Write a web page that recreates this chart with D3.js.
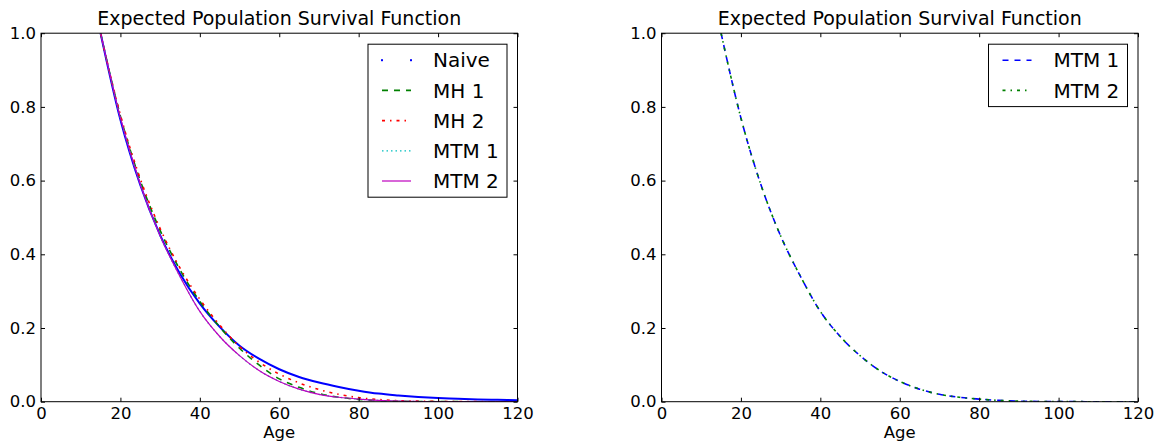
<!DOCTYPE html>
<html>
<head>
<meta charset="utf-8">
<script src="https://cdn.jsdelivr.net/npm/d3@7"></script>
<style>
  html, body { margin: 0; padding: 0; background: #fff; }
  svg { display: block; font-family: "DejaVu Sans", sans-serif; }
</style>
</head>
<body>
<svg id="chart" width="1158" height="444"></svg>
<script>
// ---- data ----
const ages  = [15, 20, 25, 30, 35, 40, 45, 50, 55, 60, 65, 70, 75, 80, 85, 90, 95, 100, 105, 110, 115, 120];
const naive = [1.000, 0.765, 0.588, 0.452, 0.347, 0.266, 0.203, 0.152, 0.116, 0.088, 0.067, 0.052, 0.040, 0.030, 0.022, 0.017, 0.013, 0.010, 0.008, 0.006, 0.005, 0.004];
const mh1   = [1.000, 0.775, 0.600, 0.465, 0.358, 0.272, 0.203, 0.145, 0.099, 0.062, 0.039, 0.022, 0.012, 0.006, 0.003, 0.0012, 0.0005, 0.0002, 0.0001, 0, 0, 0];
const mh2   = [1.000, 0.778, 0.605, 0.470, 0.363, 0.278, 0.208, 0.150, 0.107, 0.075, 0.051, 0.033, 0.020, 0.011, 0.006, 0.003, 0.0015, 0.0007, 0.0003, 0.0001, 0, 0];
const mtm1  = [1.000, 0.770, 0.590, 0.450, 0.340, 0.245, 0.177, 0.125, 0.084, 0.055, 0.034, 0.020, 0.012, 0.007, 0.0035, 0.0015, 0.0006, 0.0002, 0.0001, 0, 0, 0];
const mtm2  = [1.000, 0.770, 0.590, 0.450, 0.340, 0.245, 0.177, 0.125, 0.084, 0.055, 0.034, 0.020, 0.012, 0.007, 0.0035, 0.0015, 0.0006, 0.0002, 0.0001, 0, 0, 0];
const xTicks = [0, 20, 40, 60, 80, 100, 120];
const yTicks = [0.0, 0.2, 0.4, 0.6, 0.8, 1.0];
const titleText = "Expected Population Survival Function";
const xLabel = "Age";

const leftSeries = [
  { name: "Naive", values: naive, color: "#0000ff", style: "points" },
  { name: "MH 1",  values: mh1,   color: "#008000", style: "dash" },
  { name: "MH 2",  values: mh2,   color: "#ff0000", style: "dashdot" },
  { name: "MTM 1", values: mtm1,  color: "#00bfbf", style: "dot" },
  { name: "MTM 2", values: mtm2,  color: "#bf00bf", style: "solid" }
];
const rightSeries = [
  { name: "MTM 1", values: mtm1, color: "#0000ff", style: "dash" },
  { name: "MTM 2", values: mtm2, color: "#008000", style: "dashdot" }
];

const styleMap = {
  points:  { width: 2.0, dash: null },
  dash:    { width: 1.6, dash: "6,6" },
  dashdot: { width: 1.6, dash: "3,5,1.5,5" },
  dot:     { width: 1.3, dash: "1.5,3" },
  solid:   { width: 1.2, dash: null }
};

const svg = d3.select("#chart");

function drawPanel(left, series) {
  const W = 476.5, H = 368.5, top = 33.2;
  const g = svg.append("g").attr("transform", `translate(${left},${top})`);
  const x = d3.scaleLinear().domain([0, 120]).range([0, W]);
  const y = d3.scaleLinear().domain([0, 1]).range([H, 0]);

  const clipId = "clip" + Math.round(left);
  g.append("clipPath").attr("id", clipId).append("rect").attr("width", W).attr("height", H);

  const line = d3.line()
    .x((d, i) => x(ages[i]))
    .y(d => y(d))
    .curve(d3.curveMonotoneX);

  const plot = g.append("g").attr("clip-path", `url(#${clipId})`);
  series.forEach(s => {
    const st = styleMap[s.style];
    plot.append("path")
      .attr("d", line(s.values))
      .attr("fill", "none")
      .attr("stroke", s.color)
      .attr("stroke-width", st.width)
      .attr("stroke-dasharray", st.dash);
  });

  // axes with inward ticks
  const axB = g.append("g").attr("transform", `translate(0,${H})`)
    .call(d3.axisBottom(x).tickValues(xTicks).tickFormat(d3.format("d")).tickSizeInner(-4).tickSizeOuter(0).tickPadding(6));
  const axL = g.append("g")
    .call(d3.axisLeft(y).tickValues(yTicks).tickFormat(d3.format(".1f")).tickSizeInner(-4).tickSizeOuter(0).tickPadding(5));
  const axT = g.append("g")
    .call(d3.axisTop(x).tickValues(xTicks).tickFormat("").tickSizeInner(-4).tickSizeOuter(0));
  const axR = g.append("g").attr("transform", `translate(${W},0)`)
    .call(d3.axisRight(y).tickValues(yTicks).tickFormat("").tickSizeInner(-4).tickSizeOuter(0));
  [axB, axL, axT, axR].forEach(a => {
    a.select(".domain").remove();
    a.selectAll("line").attr("stroke", "#000");
    a.selectAll("text").attr("font-size", 16.5).attr("fill", "#000").attr("font-family", "DejaVu Sans");
  });

  g.append("rect").attr("width", W).attr("height", H)
    .attr("fill", "none").attr("stroke", "#000").attr("stroke-width", 1);

  g.append("text").attr("x", W / 2).attr("y", -8.5)
    .attr("text-anchor", "middle").attr("font-size", 19).text(titleText);
  g.append("text").attr("x", W / 2).attr("y", H + 36)
    .attr("text-anchor", "middle").attr("font-size", 16.5).text(xLabel);

  // legend
  const lgW = 139, rowH = 30.2;
  const lgH = series.length * rowH + 2;
  const lgX = W - 10.5 - lgW, lgY = 11;
  const lg = g.append("g").attr("transform", `translate(${lgX},${lgY})`);
  lg.append("rect").attr("width", lgW).attr("height", lgH)
    .attr("fill", "#fff").attr("stroke", "#000").attr("stroke-width", 1);
  series.forEach((s, i) => {
    const cy = 16 + i * rowH;
    const st = styleMap[s.style];
    if (s.style === "points") {
      [14, 43].forEach(px => lg.append("rect").attr("x", px - 1).attr("y", cy - 1)
        .attr("width", 2).attr("height", 2).attr("fill", s.color));
    } else {
      lg.append("line").attr("x1", 14).attr("x2", 43).attr("y1", cy).attr("y2", cy)
        .attr("stroke", s.color).attr("stroke-width", st.width).attr("stroke-dasharray", st.dash);
    }
    lg.append("text").attr("x", 65).attr("y", cy).attr("dy", "0.36em")
      .attr("font-size", 20).text(s.name);
  });
}

drawPanel(41, leftSeries);
drawPanel(661.5, rightSeries);
</script>
</body>
</html>
